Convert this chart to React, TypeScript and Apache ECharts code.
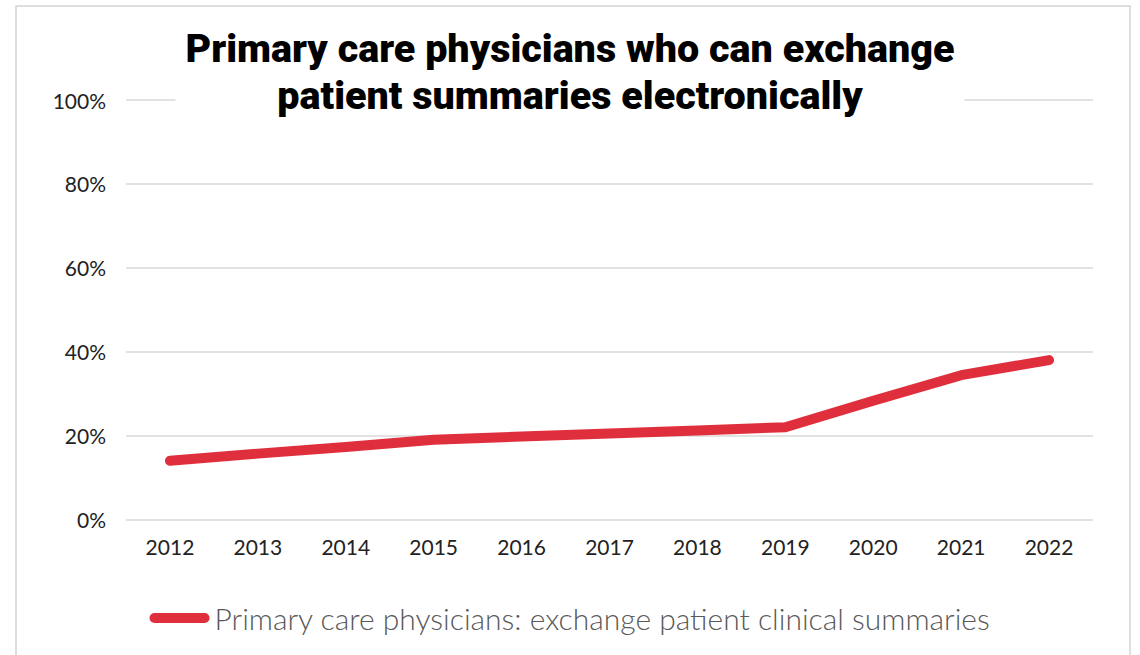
import React, { useEffect, useRef } from "react";
import * as echarts from "echarts";

const years = ["2012", "2013", "2014", "2015", "2016", "2017", "2018", "2019", "2020", "2021", "2022"];
const exchangeSummaries = [14, 15.7, 17.3, 19, 19.8, 20.5, 21.2, 22, 28.3, 34.4, 38];
const seriesName = "Primary care physicians: exchange patient clinical summaries";
const titleText = "Primary care physicians who can exchange\npatient summaries electronically";

export default function App() {
  const ref = useRef<HTMLDivElement>(null);
  useEffect(() => {
    document.body.style.margin = "0";
    const chart = echarts.init(ref.current!, null, { renderer: "svg" });
    chart.setOption({
      animation: false,
      backgroundColor: "#ffffff",
      graphic: [
        {
          type: "rect",
          z: -1,
          shape: { x: 16, y: 6, width: 1114, height: 700 },
          style: { fill: "#ffffff", stroke: "#d4d4d4", lineWidth: 1.5 },
        },
      ],
      title: {
        text: titleText,
        left: "center",
        top: 23,
        backgroundColor: "#ffffff",
        padding: [2, 10, 4, 10],
        textStyle: {
          fontFamily: "Roboto",
          fontWeight: 900,
          fontSize: 39.5,
          lineHeight: 47,
          color: "#000000",
        },
        z: 10,
      },
      grid: { left: 126, right: 47, top: 100, bottom: 135.5, containLabel: false },
      xAxis: {
        type: "category",
        data: years,
        boundaryGap: true,
        axisLine: { show: false },
        axisTick: { show: false },
        axisLabel: { fontFamily: "Lato", fontSize: 21, color: "#222222", margin: 16 },
      },
      yAxis: {
        type: "value",
        min: 0,
        max: 100,
        interval: 20,
        axisLine: { show: false },
        axisTick: { show: false },
        axisLabel: { formatter: "{value}%", fontFamily: "Lato", fontSize: 21, color: "#222222", margin: 20 },
        splitLine: { lineStyle: { color: "#d9d9d9", width: 1.5 } },
      },
      legend: {
        data: [seriesName],
        left: "center",
        top: 598,
        itemWidth: 60,
        itemHeight: 10,
        itemGap: 2,
        icon: "path://M5,0 L55,0 A5,5 0 0 1 55,10 L5,10 A5,5 0 0 1 5,0 Z",
        textStyle: { fontFamily: "Lato", fontWeight: 300, fontSize: 30, color: "#595959" },
      },
      series: [
        {
          name: seriesName,
          type: "line",
          data: exchangeSummaries,
          showSymbol: false,
          symbol: "none",
          color: "#e02f3c",
          lineStyle: { color: "#e02f3c", width: 10, cap: "round", join: "round" },
        },
      ],
    });
    return () => chart.dispose();
  }, []);
  return <div ref={ref} style={{ width: 1140, height: 655 }} />;
}
